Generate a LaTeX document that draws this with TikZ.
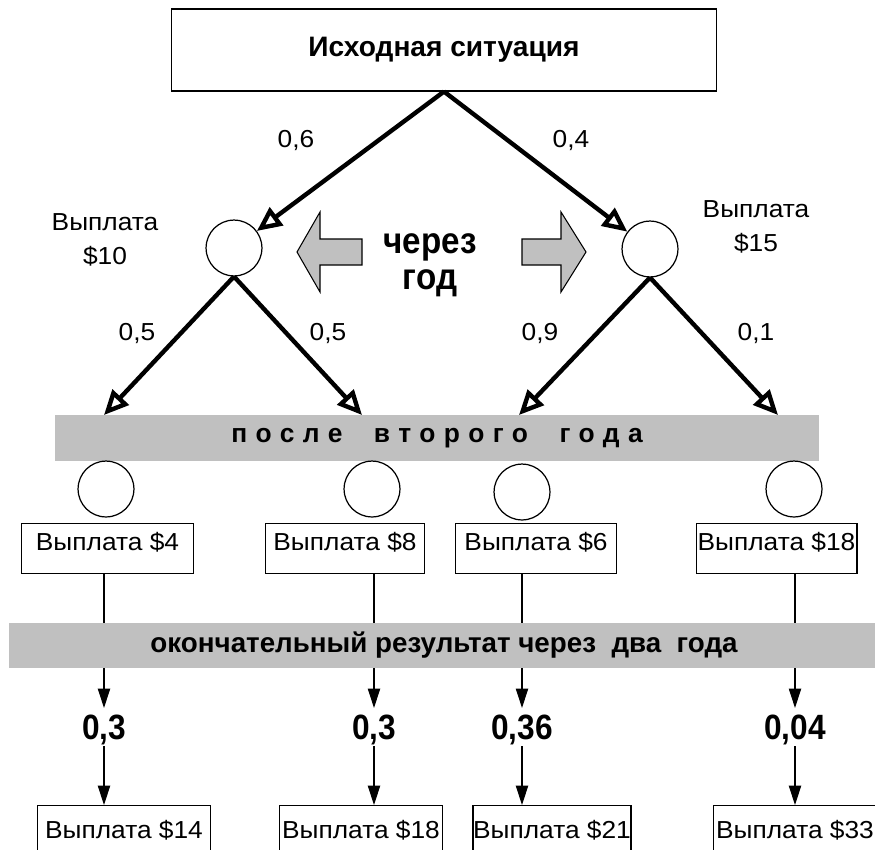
\documentclass[tikz,border=0pt]{standalone}
\usepackage{fontspec}
\setmainfont{Liberation Sans}
\newfontfamily\narrowfont[FakeStretch=0.9]{Liberation Sans}
\newfontfamily\widefont[FakeStretch=1.07]{Liberation Sans}
\newfontfamily\spacedfont[LetterSpace=32]{Liberation Sans}
\usetikzlibrary{arrows.meta, positioning}
\definecolor{bandgray}{HTML}{C0C0C0}

\begin{document}
\begin{tikzpicture}[x=0.02cm, y=-0.02cm,
  topbox/.style={draw, line width=0.8pt, minimum width=310pt, minimum height=46.5pt,
    font=\bfseries\fontsize{16}{18}\selectfont},
  circ/.style={draw, circle, line width=0.7pt, minimum size=31.8pt, inner sep=0pt},
  lbl/.style={font=\widefont\fontsize{14}{19}\selectfont, align=center, inner sep=0pt},
  prob/.style={line width=2.5pt, -{Triangle[open, length=14pt, width=12.5pt]}},
  paybox/.style={draw, line width=0.8pt, anchor=north, inner xsep=0pt, inner ysep=0pt,
    font=\widefont\fontsize{14}{16}\selectfont, text height=15.3pt, text depth=13.1pt},
  endbox/.style={paybox, text height=18.7pt, text depth=30pt},
  band/.style={fill=bandgray, inner sep=0pt},
  bigp/.style={font=\narrowfont\bfseries\fontsize{20}{22}\selectfont,
    text height=14.3pt, text depth=0pt, inner ysep=3.5pt, inner xsep=0pt},
  down/.style={line width=0.6pt, -{Triangle[length=11pt, width=7pt]}},
  fatarrow/.style={draw, fill=bandgray, line width=0.6pt}
]
\clip (0,0) rectangle (875,849);

%% start of the tree
\node[topbox] (start) at (444,50) {Исходная ситуация};
\node[circ] (c1) at (234,248) {};
\node[circ] (c2) at (650,249) {};
\draw[prob] (start.south) -- (c1);
\draw[prob] (start.south) -- (c2);
\node[lbl] (p06) at (296,140) {0,6};
\node[lbl] (p04) at (571,140) {0,4};
\node[lbl] (pay10) at (105,240) {Выплата\\\$10};
\node[lbl] (pay15) at (756,227) {Выплата\\\$15};

% gray arrows round the text
\draw[fatarrow] (297,252) -- (320,212) -- (320,239) -- (362,239) -- (362,265)
  -- (320,265) -- (320,292) -- cycle;
\draw[fatarrow] (586,252) -- (561,212) -- (561,239) -- (522,239) -- (522,265)
  -- (561,265) -- (561,292) -- cycle;
\node[font=\narrowfont\bfseries\fontsize{21}{20.5}\selectfont, align=center] (year) at (430,265) {через\\год};

%% second year
\node[band, minimum width=435pt, minimum height=26.1pt,
  font=\spacedfont\bfseries\fontsize{15}{17}\selectfont] (band1) at (437,438) {после\ \ второго\ \ года};
\foreach \i/\xi/\p/\lx in {1/104/{0,5}/137, 2/362/{0,5}/328}{
  \coordinate (t\i) at (\xi,415);
  \draw[prob] (c1.south) -- (t\i);
  \node[lbl] (q\i) at (\lx,333) {\p};
}
\foreach \i/\xi/\p/\lx in {3/519/{0,9}/540, 4/778/{0,1}/756}{
  \coordinate (t\i) at (\xi,415);
  \draw[prob] (c2.south) -- (t\i);
  \node[lbl] (q\i) at (\lx,333) {\p};
}
\foreach \i/\xi/\yi in {1/106/489, 2/372/489, 3/522/492, 4/794/489}{
  \node[circ] (d\i) at (\xi,\yi) {};
}

% payments after the second year
\node[paybox, minimum width=98.2pt] (b1) at (107.5,523) {Выплата \$4};
\node[paybox, minimum width=90.8pt] (b2) at (345,523) {Выплата \$8};
\node[paybox, minimum width=91.9pt] (b3) at (536,523) {Выплата \$6};
\node[paybox, minimum width=91.4pt] (b4) at (776.5,523) {Выплата \$18};

%% final result
\node[bigp] (r1) at (104,727) {0,3};
\node[bigp] (r2) at (374,727) {0,3};
\node[bigp] (r3) at (522,727) {0,36};
\node[bigp] (r4) at (795,727) {0,04};
\node[endbox, minimum width=98.8pt] (e1) at (124,805) {Выплата \$14};
\node[endbox, minimum width=93.1pt] (e2) at (361,805) {Выплата \$18};
\node[endbox, minimum width=89.7pt] (e3) at (552,805) {Выплата \$21};
\node[endbox, minimum width=93.1pt] (e4) at (795,805) {Выплата \$33};
\foreach \i in {1,...,4}{
  \draw[down] (r\i |- b\i.south) -- (r\i.north);
  \draw[down] (r\i.south) -- (r\i |- e\i.north);
}
\node[band, minimum width=495pt, minimum height=25.5pt,
  font=\bfseries\fontsize{15.8}{17}\selectfont] (band2) at (444,645.5) {окончательный результат через\ \ два\ \ года};
\end{tikzpicture}
\end{document}
